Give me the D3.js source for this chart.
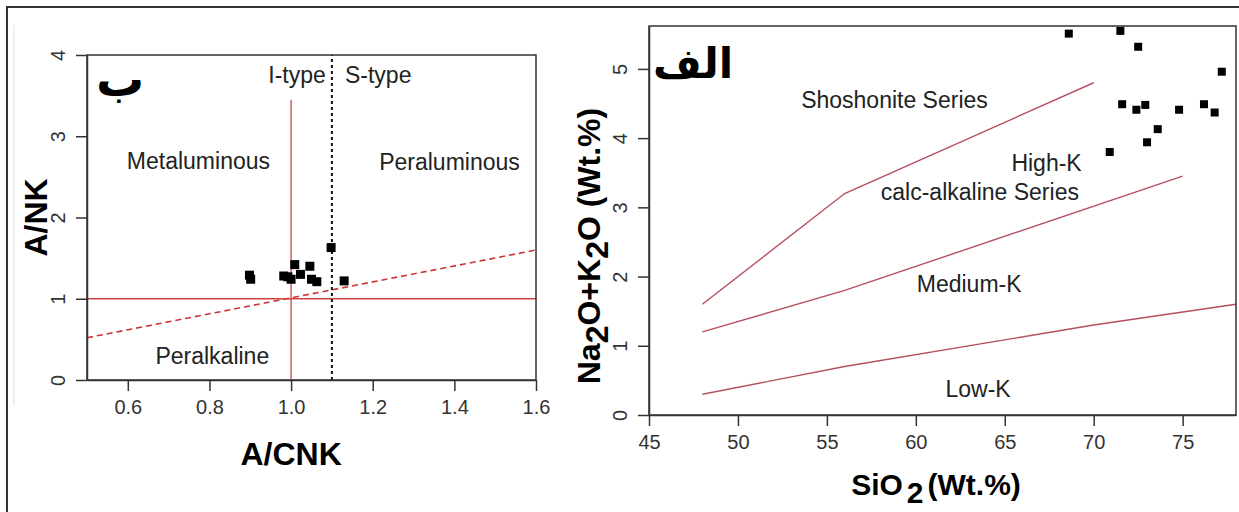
<!DOCTYPE html>
<html>
<head>
<meta charset="utf-8">
<script src="https://cdn.jsdelivr.net/npm/d3@7"></script>
<style>
body { margin: 0; background: #fff; }
text { font-family: "Liberation Sans", Arial, sans-serif; }
</style>
</head>
<body>
<script>

let width = 1239;
let height = 512;

// Left diagram (A/CNK vs A/NK)
let acnk = [0.898, 0.901, 0.982, 0.992, 1.0, 1.009, 1.023, 1.046, 1.05, 1.063, 1.098, 1.13];
let anK = [1.29, 1.24, 1.28, 1.27, 1.24, 1.42, 1.30, 1.40, 1.24, 1.21, 1.63, 1.22];
let leftXTicks = [0.6, 0.8, 1.0, 1.2, 1.4, 1.6];
let leftYTicks = [0, 1, 2, 3, 4];
let shandX = [0.5, 1.6];
let shandY = [0.52, 1.6];
let leftLabels = [
	{text: "I-type", x: 1.085, y: 3.66, anchor: "end"},
	{text: "S-type", x: 1.132, y: 3.66, anchor: "start"},
	{text: "Metaluminous", x: 0.773, y: 2.6, anchor: "middle"},
	{text: "Peraluminous", x: 1.388, y: 2.59, anchor: "middle"},
	{text: "Peralkaline", x: 0.807, y: 0.2, anchor: "middle"}
];

// Right diagram (SiO2 vs Na2O+K2O)
let sio2 = [68.6, 71.5, 72.5, 77.2, 71.6, 72.4, 72.9, 74.8, 76.2, 76.8, 73.6, 73.0, 70.9];
let alk = [5.51, 5.55, 5.32, 4.96, 4.49, 4.41, 4.48, 4.41, 4.49, 4.37, 4.13, 3.94, 3.80];
let rightXTicks = [45, 50, 55, 60, 65, 70, 75];
let rightYTicks = [0, 1, 2, 3, 4, 5];
let shoshX = [48, 56, 70];
let shoshY = [1.6, 3.2, 4.8];
let highKX = [48, 56, 75];
let highKY = [1.2, 1.8, 3.45];
let lowKX = [48, 56, 70, 78];
let lowKY = [0.3, 0.7, 1.3, 1.6];
let rightLabels = [
	{text: "Shoshonite Series", x: 58.8, y: 4.44},
	{text: "High-K", x: 67.35, y: 3.52},
	{text: "calc-alkaline Series", x: 63.6, y: 3.1},
	{text: "Medium-K", x: 63.0, y: 1.77},
	{text: "Low-K", x: 63.5, y: 0.26}
];

let svg = d3.select("body")
	.append("svg")
		.attr("width", width)
		.attr("height", height);

// outer frame (only top and left edges show)
svg.append("path")
	.attr("d", "M7,512 V7 H1239")
	.style("fill", "none")
	.style("stroke", "#333")
	.style("stroke-width", 2);
svg.append("line")
	.attr("x1", 14).attr("x2", 14).attr("y1", 25).attr("y2", 405)
	.style("stroke", "#ddd");

// ---------- left panel ----------
let lx = d3.scaleLinear().domain([0.5, 1.6]).range([87, 536]);
let ly = d3.scaleLinear().domain([0, 4]).range([380, 55]);

let line = d3.line().x(d => d[0]).y(d => d[1]);

svg.append("path")
	.attr("d", line(shandX.map((v, i) => [lx(v), ly(shandY[i])])))
	.style("fill", "none")
	.style("stroke", "#cc3333")
	.style("stroke-width", 1.6)
	.style("stroke-dasharray", "6,4");

svg.append("line")
	.attr("x1", lx(0.5)).attr("x2", lx(1.6))
	.attr("y1", ly(1)).attr("y2", ly(1))
	.style("stroke", "#d04040")
	.style("stroke-width", 1.3);

svg.append("line")
	.attr("x1", lx(1.0)).attr("x2", lx(1.0))
	.attr("y1", ly(0)).attr("y2", ly(3.45))
	.style("stroke", "#d04040")
	.style("stroke-width", 1.3);

svg.append("line")
	.attr("x1", lx(1.1)).attr("x2", lx(1.1))
	.attr("y1", ly(0)).attr("y2", ly(4))
	.style("stroke", "#111")
	.style("stroke-width", 2)
	.style("stroke-dasharray", "3,3");

svg.selectAll("rect.lpt")
	.data(acnk)
	.enter().append("rect")
	.attr("class", "lpt")
	.attr("x", d => lx(d) - 4.5)
	.attr("y", (d, i) => ly(anK[i]) - 4.5)
	.attr("width", 9)
	.attr("height", 9)
	.style("fill", "#000");

svg.selectAll("text.llab")
	.data(leftLabels)
	.enter().append("text")
	.attr("class", "llab")
	.attr("x", d => lx(d.x))
	.attr("y", d => ly(d.y))
	.attr("text-anchor", d => d.anchor)
	.style("font-size", "23px")
	.style("fill", "#222")
	.text(d => d.text);

svg.append("text")
	.attr("x", 120).attr("y", 96)
	.attr("text-anchor", "middle")
	.style("font-family", "DejaVu Sans")
	.style("font-weight", "bold")
	.style("font-size", "48px")
	.text("ب");

svg.append("rect")
	.attr("x", lx(0.5)).attr("y", ly(4))
	.attr("width", lx(1.6) - lx(0.5))
	.attr("height", ly(0) - ly(4))
	.style("fill", "none")
	.style("stroke", "#333")
	.style("stroke-width", 1.5);

let lxAxis = svg.append("g")
	.attr("transform", "translate(0," + ly(0) + ")")
	.call(d3.axisBottom(lx).tickValues(leftXTicks).tickFormat(d3.format(".1f")).tickSize(11).tickSizeOuter(0));
let lyAxis = svg.append("g")
	.attr("transform", "translate(" + lx(0.5) + ",0)")
	.call(d3.axisLeft(ly).tickValues(leftYTicks).tickFormat(d3.format("d")).tickSize(11).tickSizeOuter(0));

svg.append("text")
	.attr("transform", "translate(47," + ly(2) + ") rotate(-90)")
	.attr("text-anchor", "middle")
	.style("font-size", "32px")
	.style("font-weight", "bold")
	.text("A/NK");

svg.append("text")
	.attr("x", lx(1.0)).attr("y", 465)
	.attr("text-anchor", "middle")
	.style("font-size", "32px")
	.style("font-weight", "bold")
	.text("A/CNK");

// ---------- right panel ----------
let rx = d3.scaleLinear().domain([45, 78]).range([649, 1236]);
let ry = d3.scaleLinear().domain([0, 5.62]).range([415, 26]);

[[shoshX, shoshY], [highKX, highKY], [lowKX, lowKY]].forEach(s => {
	svg.append("path")
		.attr("d", line(s[0].map((v, i) => [rx(v), ry(s[1][i])])))
		.style("fill", "none")
		.style("stroke", "#b5505e")
		.style("stroke-width", 1.4);
});

svg.selectAll("rect.rpt")
	.data(sio2)
	.enter().append("rect")
	.attr("class", "rpt")
	.attr("x", d => rx(d) - 4)
	.attr("y", (d, i) => ry(alk[i]) - 4)
	.attr("width", 8)
	.attr("height", 8)
	.style("fill", "#000");

svg.selectAll("text.rlab")
	.data(rightLabels)
	.enter().append("text")
	.attr("class", "rlab")
	.attr("x", d => rx(d.x))
	.attr("y", d => ry(d.y))
	.attr("text-anchor", "middle")
	.style("font-size", "23px")
	.style("fill", "#222")
	.text(d => d.text);

svg.append("text")
	.attr("x", 693).attr("y", 78)
	.attr("text-anchor", "middle")
	.style("font-family", "DejaVu Sans")
	.style("font-weight", "bold")
	.style("font-size", "42px")
	.text("الف");

svg.append("rect")
	.attr("x", rx(45)).attr("y", ry(5.62))
	.attr("width", rx(78) - rx(45))
	.attr("height", ry(0) - ry(5.62))
	.style("fill", "none")
	.style("stroke", "#333")
	.style("stroke-width", 1.5);

let rxAxis = svg.append("g")
	.attr("transform", "translate(0," + ry(0) + ")")
	.call(d3.axisBottom(rx).tickValues(rightXTicks).tickSize(11).tickSizeOuter(0));
let ryAxis = svg.append("g")
	.attr("transform", "translate(" + rx(45) + ",0)")
	.call(d3.axisLeft(ry).tickValues(rightYTicks).tickFormat(d3.format("d")).tickSize(11).tickSizeOuter(0));

// shared axis styling, R-like rotated y labels
[lxAxis, lyAxis, rxAxis, ryAxis].forEach(a => {
	a.select(".domain").style("stroke", "#333").style("stroke-width", 1.5);
	a.selectAll(".tick line").style("stroke", "#333").style("stroke-width", 1.5);
	a.selectAll(".tick text")
		.style("font-family", "Liberation Sans, Arial, sans-serif")
		.style("font-size", "20px")
		.style("fill", "#333");
});
[lxAxis, rxAxis].forEach(a => a.selectAll(".tick text").attr("y", 20));
[lyAxis, ryAxis].forEach(a => {
	a.selectAll(".tick text")
		.attr("transform", "rotate(-90)")
		.attr("x", 0)
		.attr("y", -22)
		.attr("dy", "0")
		.attr("text-anchor", "middle");
});

let yl = svg.append("text")
	.attr("transform", "translate(600,246) rotate(-90)")
	.attr("text-anchor", "middle")
	.style("font-size", "32px")
	.style("font-weight", "bold");
yl.append("tspan").text("Na");
yl.append("tspan").attr("dy", 8).text("2");
yl.append("tspan").attr("dy", -8).text("O+K");
yl.append("tspan").attr("dy", 8).text("2");
yl.append("tspan").attr("dy", -8).text("O (Wt.%)");

let xl = svg.append("text")
	.attr("x", 936).attr("y", 495)
	.attr("text-anchor", "middle")
	.style("font-size", "30px")
	.style("font-weight", "bold");
xl.append("tspan").text("SiO");
xl.append("tspan").attr("dx", 4).attr("dy", 8).text("2");
xl.append("tspan").attr("dx", 4).attr("dy", -8).text("(Wt.%)");

</script>
</body>
</html>
